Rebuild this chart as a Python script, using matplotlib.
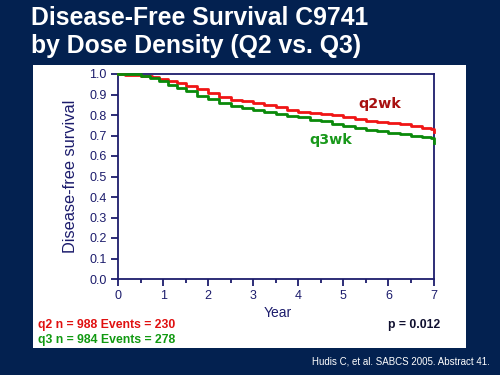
import matplotlib
matplotlib.use("Agg")
import matplotlib.pyplot as plt
from matplotlib.patches import Rectangle

plt.rcParams['font.family'] = ['Liberation Sans', 'DejaVu Sans']

# Data
q2_years = [0, 0.15, 0.5, 0.75, 0.9, 1.1, 1.3, 1.5, 1.75, 2.0, 2.25, 2.5, 2.75, 3.0, 3.25, 3.5,
            3.75, 4.0, 4.25, 4.5, 4.75, 5.0, 5.25, 5.5, 5.75, 6.0, 6.25, 6.5, 6.75, 6.95, 7.0]
q2_surv = [1.0, 0.995, 0.99, 0.983, 0.978, 0.968, 0.955, 0.94, 0.925, 0.908, 0.888, 0.875, 0.866,
           0.857, 0.848, 0.838, 0.826, 0.815, 0.810, 0.806, 0.798, 0.789, 0.780, 0.773, 0.768,
           0.762, 0.755, 0.748, 0.738, 0.730, 0.718]
q3_years = [0, 0.5, 0.7, 0.9, 1.1, 1.3, 1.5, 1.75, 2.0, 2.25, 2.5, 2.75, 3.0, 3.25, 3.5, 3.75,
            4.0, 4.25, 4.5, 4.75, 5.0, 5.25, 5.5, 5.75, 6.0, 6.25, 6.5, 6.75, 6.95, 7.0]
q3_surv = [1.0, 0.99, 0.98, 0.965, 0.945, 0.93, 0.915, 0.895, 0.876, 0.858, 0.845, 0.835, 0.822,
           0.815, 0.806, 0.797, 0.789, 0.778, 0.770, 0.758, 0.746, 0.735, 0.726, 0.720, 0.712,
           0.705, 0.698, 0.692, 0.686, 0.662]
x_ticks = [0, 1, 2, 3, 4, 5, 6, 7]
y_ticks = [0.0, 0.1, 0.2, 0.3, 0.4, 0.5, 0.6, 0.7, 0.8, 0.9, 1.0]

W, H = 500, 375
BG = '#032150'
NAVY = '#1c1c6c'

fig = plt.figure(figsize=(5, 3.75), dpi=100, facecolor=BG)

def fx(px):
    return px / W

def fy(py):
    return 1 - py / H

# white panel
fig.patches.append(Rectangle((fx(33), fy(348)), fx(466) - fx(33), fy(65) - fy(348),
                             transform=fig.transFigure, facecolor='white', edgecolor='none', zorder=-5))

ax = fig.add_axes([fx(118), fy(279), fx(433.5) - fx(118), fy(74) - fy(279)], zorder=2)
ax.set_facecolor('white')
ax.step(q2_years, q2_surv, where='post', color='#f01515', lw=2, zorder=3, clip_on=False)
ax.step(q3_years, q3_surv, where='post', color='#0a8a0a', lw=2, zorder=3, clip_on=False)
ax.set_xlim(0, 7)
ax.set_ylim(0, 1.0)
ax.set_xticks(x_ticks)
ax.set_xticks([0.5 + i for i in range(7)], minor=True)
ax.set_yticks(y_ticks)
ax.set_yticklabels([f'{v:.1f}' for v in y_ticks])
for s in ax.spines.values():
    s.set_color(NAVY)
    s.set_linewidth(1.3)
ax.tick_params(axis='both', which='major', direction='out', length=5, width=1.3,
               color=NAVY, labelcolor=NAVY, labelsize=9, pad=3)
ax.tick_params(axis='x', which='minor', direction='out', length=3, width=1.3, color=NAVY)
ax.set_ylabel('Disease-free survival', color=NAVY, fontsize=11.8, labelpad=8)

fig.text(fx(278), fy(313), 'Year', color=NAVY, fontsize=10, ha='center', va='center')

ax.text(5.33, 0.833, 'q2wk', color='#a81010', fontsize=10.3, family='DejaVu Sans',
        fontweight='bold', ha='left', va='baseline')
ax.text(4.25, 0.659, 'q3wk', color='#18981a', fontsize=10.3, family='DejaVu Sans',
        fontweight='bold', ha='left', va='baseline')

# title
fig.text(fx(31), fy(25), 'Disease-Free Survival C9741', color='white', fontsize=17.8,
         fontweight='bold', ha='left', va='baseline')
fig.text(fx(31), fy(53), 'by Dose Density (Q2 vs. Q3)', color='white', fontsize=17.8,
         fontweight='bold', ha='left', va='baseline')

fig.text(fx(37.5), fy(325), 'q2 n = 988 Events = 230', color='#e01010', fontsize=8.8,
         fontweight='bold', ha='left', va='center')
fig.text(fx(37.5), fy(340), 'q3 n = 984 Events = 278', color='#119911', fontsize=8.8,
         fontweight='bold', ha='left', va='center')
fig.text(fx(440), fy(325), 'p = 0.012', color='#101030', fontsize=8.8,
         fontweight='bold', ha='right', va='center')
fig.text(fx(490), fy(361), 'Hudis C, et al. SABCS 2005. Abstract 41.', color='white',
         fontsize=7, ha='right', va='center')

fig.savefig('out.png', dpi=100, facecolor=BG)
